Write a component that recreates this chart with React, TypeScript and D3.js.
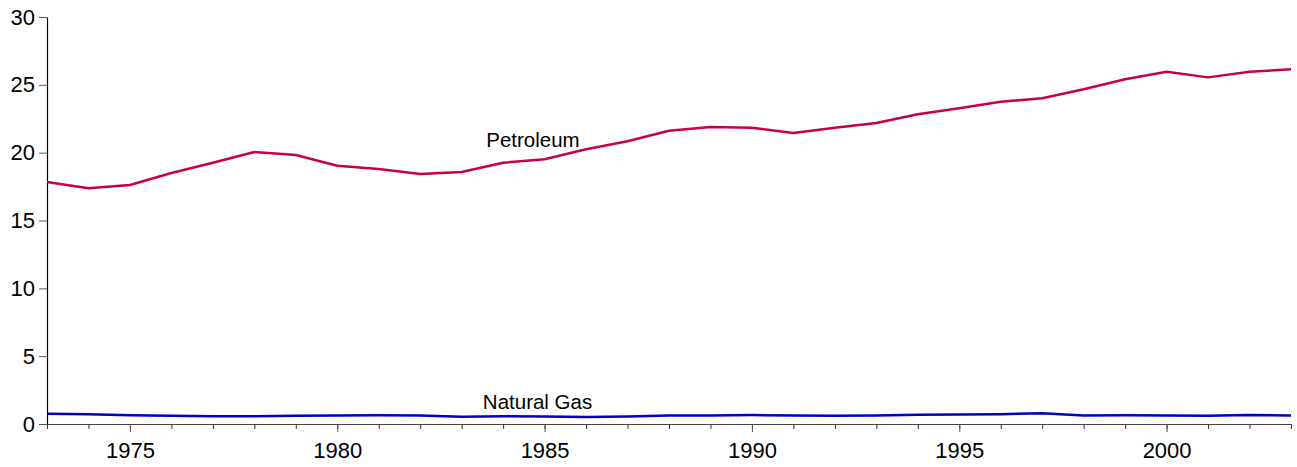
import { useEffect, useRef } from "react";
import * as d3 from "d3";

const years = d3.range(1973, 2004);

const petroleum = [
  17.84, 17.37, 17.62, 18.5, 19.26, 20.05, 19.83, 19.04, 18.8, 18.43, 18.57,
  19.26, 19.51, 20.25, 20.84, 21.62, 21.89, 21.84, 21.45, 21.83, 22.19, 22.83,
  23.27, 23.76, 24.01, 24.67, 25.41, 25.97, 25.55, 25.97, 26.14,
];

const naturalGas = [
  0.76, 0.71, 0.64, 0.6, 0.58, 0.57, 0.6, 0.63, 0.64, 0.62, 0.53, 0.58, 0.56,
  0.52, 0.55, 0.62, 0.63, 0.66, 0.63, 0.6, 0.63, 0.68, 0.7, 0.72, 0.8, 0.63,
  0.64, 0.62, 0.6, 0.67, 0.62,
];

const yTicks = [0, 5, 10, 15, 20, 25, 30];
const xMajor = [1975, 1980, 1985, 1990, 1995, 2000];

export default function App() {
  const ref = useRef<SVGSVGElement>(null);

  useEffect(() => {
    if (!ref.current) return;
    const width = 1297;
    const height = 467;
    const margin = { top: 17, right: 6, bottom: 43, left: 47 };

    const svg = d3.select(ref.current);
    svg.selectAll("*").remove();

    const x = d3.scaleLinear().domain([1973, 2003]).range([margin.left, width - margin.right]);
    const y = d3.scaleLinear().domain([0, 30]).range([height - margin.bottom, margin.top]);

    const font = "'Liberation Sans', Arial, sans-serif";
    const fs = 22;

    // y axis
    const yAxis = svg
      .append("g")
      .attr("transform", `translate(${margin.left},0)`)
      .call(d3.axisLeft(y).tickValues(yTicks).tickSize(8).tickPadding(4).tickSizeOuter(0));
    yAxis.select(".domain").attr("stroke", "#000").attr("stroke-width", 1.2);
    yAxis.selectAll(".tick line").attr("stroke", "#555");
    yAxis.selectAll("text").attr("font-family", font).attr("font-size", fs).attr("fill", "#000");

    // x axis: minor ticks every year, longer ticks with labels every 5 years
    const xAxisMinor = svg
      .append("g")
      .attr("transform", `translate(0,${y(0)})`)
      .call(d3.axisBottom(x).tickValues(years).tickSize(5).tickFormat(() => "").tickSizeOuter(0));
    xAxisMinor.select(".domain").attr("stroke", "#444").attr("stroke-width", 1.2);
    xAxisMinor.selectAll(".tick line").attr("stroke", "#333");

    const xAxis = svg
      .append("g")
      .attr("transform", `translate(0,${y(0)})`)
      .call(
        d3.axisBottom(x).tickValues(xMajor).tickSize(8).tickPadding(10).tickFormat(d3.format("d"))
      );
    xAxis.select(".domain").remove();
    xAxis.selectAll(".tick line").attr("stroke", "#555");
    xAxis.selectAll("text").attr("font-family", font).attr("font-size", fs).attr("fill", "#000");

    const line = (vals: number[]) =>
      d3
        .line<number>()
        .x((_, i) => x(years[i]))
        .y((d) => y(d))(vals);

    svg
      .append("path")
      .attr("d", line(petroleum))
      .attr("fill", "none")
      .attr("stroke", "#c8004a")
      .attr("stroke-width", 2.5)
      .attr("stroke-linejoin", "round");

    svg
      .append("path")
      .attr("d", line(naturalGas))
      .attr("fill", "none")
      .attr("stroke", "#0000c8")
      .attr("stroke-width", 2.5)
      .attr("stroke-linejoin", "round");

    svg
      .append("text")
      .attr("x", x(1984.72))
      .attr("y", y(20.44))
      .attr("text-anchor", "middle")
      .attr("font-family", font)
      .attr("font-size", 20.5)
      .attr("fill", "#000")
      .text("Petroleum");

    svg
      .append("text")
      .attr("x", x(1984.83))
      .attr("y", y(1.08))
      .attr("text-anchor", "middle")
      .attr("font-family", font)
      .attr("font-size", 20.5)
      .attr("fill", "#000")
      .text("Natural Gas");
  }, []);

  return (
    <svg
      ref={ref}
      width={1297}
      height={467}
      style={{ position: "absolute", left: 0, top: 0, background: "#fff" }}
    />
  );
}
